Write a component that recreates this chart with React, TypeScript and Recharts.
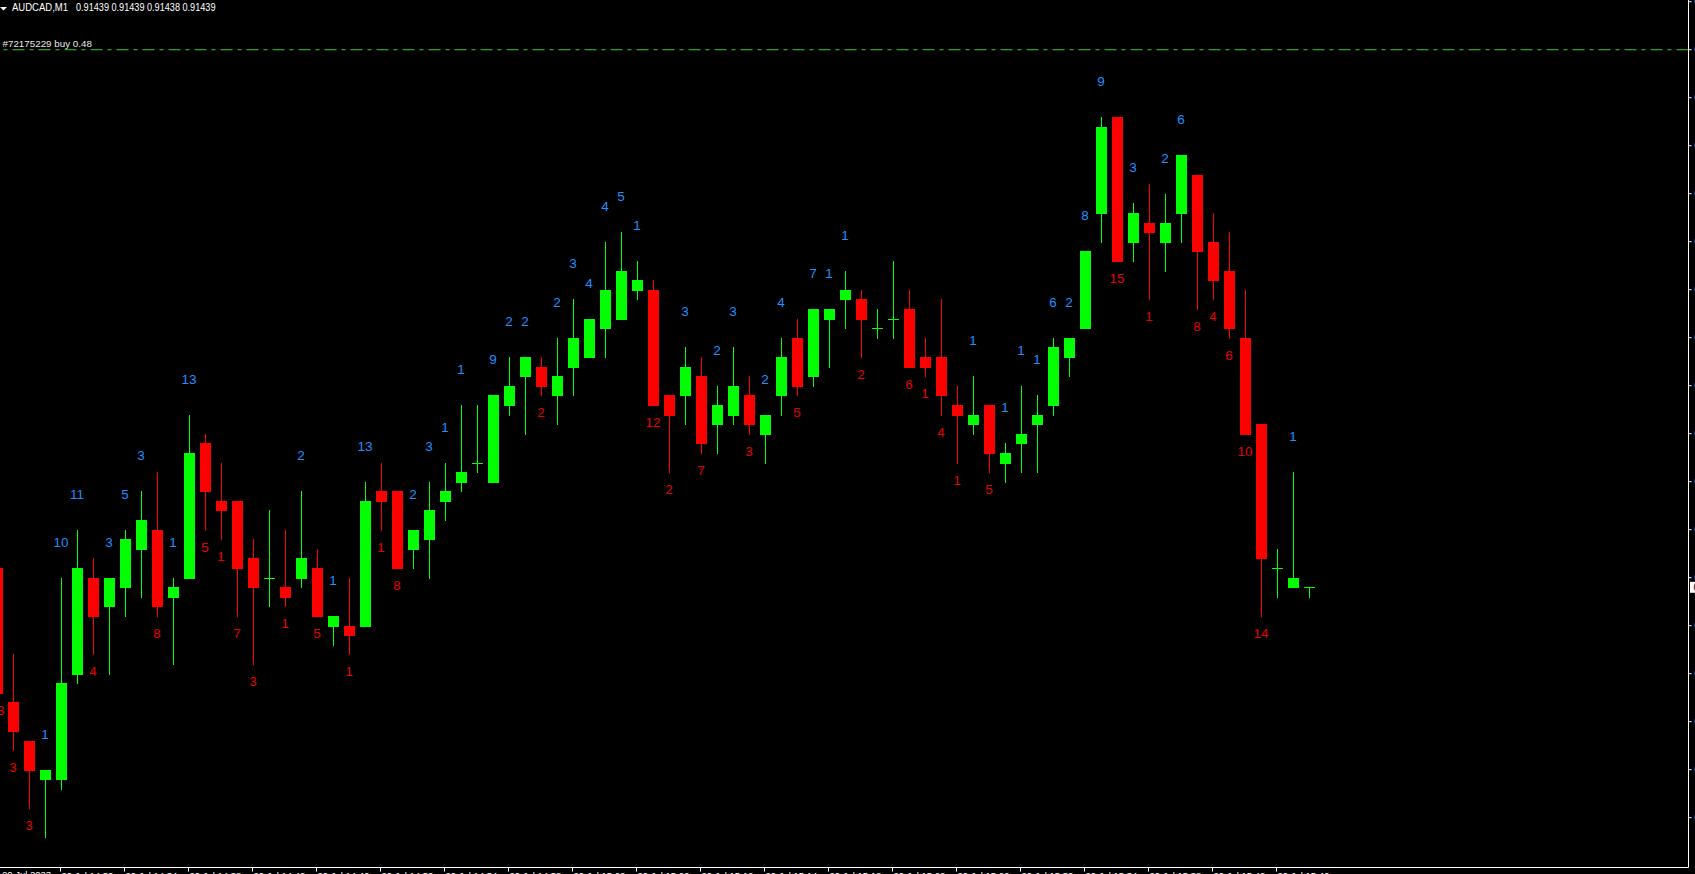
import { ComposedChart, Bar, XAxis, YAxis, ReferenceLine } from 'recharts';

// header / trade info
const symbol = 'AUDCAD,M1';
const lastQuote = ['0.91439', '0.91439', '0.91438', '0.91439'];
const orderText = '#72175229 buy 0.48';
const orderPrice = 0.91495;
const bidPrice = 0.91439;
const sessionDate = '20 Jul';
const firstDateLabel = '20 Jul 2023';

// M1 bars
const times = [
  '14:26', '14:27', '14:28', '14:29', '14:30', '14:31', '14:32', '14:33', '14:34', '14:35',
  '14:36', '14:37', '14:38', '14:39', '14:40', '14:41', '14:42', '14:43', '14:44', '14:45',
  '14:46', '14:47', '14:48', '14:49', '14:50', '14:51', '14:52', '14:53', '14:54', '14:55',
  '14:56', '14:57', '14:58', '14:59', '15:00', '15:01', '15:02', '15:03', '15:04', '15:05',
  '15:06', '15:07', '15:08', '15:09', '15:10', '15:11', '15:12', '15:13', '15:14', '15:15',
  '15:16', '15:17', '15:18', '15:19', '15:20', '15:21', '15:22', '15:23', '15:24', '15:25',
  '15:26', '15:27', '15:28', '15:29', '15:30', '15:31', '15:32', '15:33', '15:34', '15:35',
  '15:36', '15:37', '15:38', '15:39', '15:40', '15:41', '15:42', '15:43', '15:44', '15:45',
  '15:46', '15:47', '15:48',
];

const opens = [
  0.91441, 0.91427, 0.91423, 0.91419, 0.91419, 0.9143, 0.9144, 0.91437, 0.91439, 0.91443,
  0.91445, 0.91438, 0.9144, 0.91454, 0.91448, 0.91448, 0.91442, 0.9144, 0.91439, 0.9144,
  0.91441, 0.91435, 0.91435, 0.91435, 0.91449, 0.91449, 0.91443, 0.91444, 0.91448, 0.9145,
  0.91452, 0.9145, 0.91458, 0.91461, 0.91462, 0.91459, 0.91462, 0.91463, 0.91466, 0.91467,
  0.9147, 0.9147, 0.91459, 0.91459, 0.91461, 0.91456, 0.91457, 0.91459, 0.91455, 0.91459,
  0.91465, 0.91461, 0.91467, 0.91469, 0.91469, 0.91466, 0.91467, 0.91468, 0.91463, 0.91463,
  0.91458, 0.91456, 0.91458, 0.91452, 0.91454, 0.91456, 0.91458, 0.91463, 0.91466, 0.91478,
  0.91488, 0.91475, 0.91477, 0.91475, 0.91478, 0.91482, 0.91475, 0.91472, 0.91465, 0.91456,
  0.91441, 0.91439, 0.91439,
];

const highs = [
  0.91441, 0.91432, 0.91423, 0.9142, 0.9144, 0.91445, 0.91442, 0.9144, 0.91445, 0.91449,
  0.91451, 0.9144, 0.91457, 0.91455, 0.91452, 0.91448, 0.91444, 0.91447, 0.91445, 0.91449,
  0.91443, 0.91436, 0.9144, 0.9145, 0.91452, 0.91449, 0.91445, 0.9145, 0.91452, 0.91458,
  0.91458, 0.91459, 0.91463, 0.91463, 0.91463, 0.91465, 0.91469, 0.91467, 0.91475, 0.91476,
  0.91473, 0.91471, 0.91459, 0.91464, 0.91463, 0.9146, 0.91464, 0.91461, 0.91457, 0.91465,
  0.91467, 0.91468, 0.91468, 0.91472, 0.9147, 0.91468, 0.91473, 0.9147, 0.91465, 0.91469,
  0.9146, 0.91461, 0.91458, 0.91454, 0.9146, 0.91459, 0.91465, 0.91465, 0.91474, 0.91488,
  0.91488, 0.91479, 0.91481, 0.9148, 0.91484, 0.91482, 0.91478, 0.91476, 0.9147, 0.91456,
  0.91443, 0.91451, 0.91439,
];

const lows = [
  0.91428, 0.91422, 0.91416, 0.91413, 0.91418, 0.91429, 0.91432, 0.9143, 0.91436, 0.91438,
  0.91436, 0.91431, 0.9144, 0.91445, 0.91444, 0.91436, 0.91431, 0.91437, 0.91437, 0.91439,
  0.91436, 0.91433, 0.91432, 0.91435, 0.91445, 0.91441, 0.91441, 0.9144, 0.91446, 0.91449,
  0.91451, 0.9145, 0.91457, 0.91455, 0.91459, 0.91456, 0.91459, 0.91463, 0.91463, 0.91467,
  0.91469, 0.91458, 0.91451, 0.91456, 0.91453, 0.91453, 0.91456, 0.91455, 0.91452, 0.91457,
  0.91459, 0.9146, 0.91462, 0.91466, 0.91463, 0.91465, 0.91465, 0.91462, 0.91461, 0.91457,
  0.91452, 0.91455, 0.91451, 0.9145, 0.91451, 0.91451, 0.91457, 0.91461, 0.91466, 0.91475,
  0.91473, 0.91473, 0.91469, 0.91472, 0.91475, 0.91468, 0.91469, 0.91465, 0.91455, 0.91436,
  0.91438, 0.91439, 0.91438,
];

const closes = [
  0.91428, 0.91424, 0.9142, 0.9142, 0.91429, 0.91441, 0.91436, 0.9144, 0.91444, 0.91446,
  0.91437, 0.91439, 0.91453, 0.91449, 0.91447, 0.91441, 0.91439, 0.9144, 0.91438, 0.91442,
  0.91436, 0.91436, 0.91434, 0.91448, 0.91448, 0.91441, 0.91445, 0.91447, 0.91449, 0.91451,
  0.91452, 0.91459, 0.9146, 0.91463, 0.9146, 0.91461, 0.91465, 0.91467, 0.9147, 0.91472,
  0.91471, 0.91458, 0.91457, 0.91462, 0.91454, 0.91458, 0.9146, 0.91456, 0.91457, 0.91463,
  0.9146, 0.91468, 0.91468, 0.9147, 0.91467, 0.91466, 0.91467, 0.91462, 0.91462, 0.91459,
  0.91457, 0.91457, 0.91453, 0.91453, 0.91455, 0.91457, 0.91464, 0.91465, 0.91474, 0.91487,
  0.91473, 0.91478, 0.91476, 0.91477, 0.91484, 0.91474, 0.91471, 0.91466, 0.91455, 0.91442,
  0.91441, 0.9144, 0.91439,
];

// counter printed above (blue) / below (red) a bar
const upCounts = [
  null, null, null, 1, 10, 11, null, 3, 5, 3,
  null, 1, 13, null, null, null, null, null, null, 2,
  null, 1, null, 13, null, null, 2, 3, 1, 1,
  null, 9, 2, 2, null, 2, 3, 4, 4, 5,
  1, null, null, 3, null, 2, 3, null, 2, 4,
  null, 7, 1, 1, null, null, null, null, null, null,
  null, 1, null, 1, 1, 1, 6, 2, 8, 9,
  null, 3, null, 2, 6, null, null, null, null, null,
  null, 1, null,
];

const downCounts = [
  13, 3, 3, null, null, null, 4, null, null, null,
  8, null, null, 5, 1, 7, 3, null, 1, null,
  5, null, 1, null, 1, 8, null, null, null, null,
  null, null, null, null, 2, null, null, null, null, null,
  null, 12, 2, null, 7, null, null, 3, null, null,
  5, null, null, null, 2, null, null, 6, 1, 4,
  1, null, 5, null, null, null, null, null, null, null,
  15, null, 1, null, null, 8, 4, 6, 10, 14,
  null, null, null,
];

const timeTicks = [
  '14:30', '14:34', '14:38', '14:42', '14:46', '14:50', '14:54', '14:58', '15:02', '15:06',
  '15:10', '15:14', '15:18', '15:22', '15:26', '15:30', '15:34', '15:38', '15:42', '15:46',
];

const priceTicks = [
  0.91415, 0.9142, 0.91425, 0.9143, 0.91435, 0.9144, 0.91445, 0.9145, 0.91455,
  0.9146, 0.91465, 0.9147, 0.91475, 0.9148, 0.91485, 0.9149, 0.91495, 0.915,
];

const BULL = '#00ff00';
const BEAR = '#ff0000';
const FONT = '"Liberation Sans", Arial, sans-serif';

const rows = times.map((t, i) => ({
  t,
  range: [lows[i], highs[i]],
  open: opens[i],
  high: highs[i],
  low: lows[i],
  close: closes[i],
  up: upCounts[i],
  down: downCounts[i],
}));

// eslint-disable-next-line @typescript-eslint/no-explicit-any
const Candle = (props: any) => {
  const { x, y, width, height, payload } = props;
  if (x == null || y == null || !payload) return null;
  const { open, close, high, low, up, down } = payload;
  const top = Math.min(y, y + height);
  const h = Math.abs(height);
  const py = (v: number) => Math.round(top + ((high - v) / (high - low)) * h);
  const cx = x + width / 2;
  const color = close < open ? BEAR : BULL;
  const yH = py(high);
  const yL = py(low);
  const yO = py(open);
  const yC = py(close);
  return (
    <g>
      <rect x={Math.floor(cx)} y={yH} width={1} height={yL - yH + 1} fill={color} />
      <rect
        x={Math.round(cx - 5.5)}
        y={Math.min(yO, yC)}
        width={11}
        height={Math.abs(yO - yC) + 1}
        fill={color}
      />
      {up != null && (
        <text x={cx} y={yH - 31.5} textAnchor="middle" fill="#1e90ff" fontSize={13.5} fontFamily={FONT}>
          {up}
        </text>
      )}
      {down != null && (
        <text x={cx} y={yL + 22} textAnchor="middle" fill="#e60000" fontSize={13.5} fontFamily={FONT}>
          {down}
        </text>
      )}
    </g>
  );
};

// eslint-disable-next-line @typescript-eslint/no-explicit-any
const TimeTick = ({ x, y, payload }: any) => (
  <text x={x + 1} y={y + 7} fill="#fff" fontSize={9.5} fontFamily={FONT}>
    {`${sessionDate} ${payload.value}`}
  </text>
);

// eslint-disable-next-line @typescript-eslint/no-explicit-any
const OrderLabel = ({ viewBox }: any) => (
  <text x={viewBox.x + 14} y={viewBox.y - 3} fill="#e8e8e8" fontSize={9.8} fontFamily={FONT}>
    {orderText}
  </text>
);

// eslint-disable-next-line @typescript-eslint/no-explicit-any
const BidTag = ({ viewBox }: any) => {
  const left = viewBox.x + viewBox.width + 1.5;
  return (
    <g>
      <rect x={left} y={viewBox.y - 5.5} width={52} height={11} fill="#fff" />
      <text x={left + 3.5} y={viewBox.y + 3.5} fill="#000" fontSize={10} fontFamily={FONT}>
        {bidPrice.toFixed(5)}
      </text>
    </g>
  );
};

export default function App() {
  return (
    <div
      style={{
        position: 'absolute',
        left: 0,
        top: 0,
        width: 1695,
        height: 874,
        overflow: 'hidden',
        background: '#000',
      }}
    >
      <div style={{ position: 'absolute', left: -16, top: 0 }}>
        <ComposedChart
          width={1765}
          height={898}
          data={rows}
          margin={{ top: 0, right: 0.5, bottom: 0.5, left: 4.5 }}
        >
          <XAxis
            dataKey="t"
            ticks={timeTicks}
            interval={0}
            height={30}
            padding={{ left: 0, right: 372 }}
            stroke="#fff"
            tickSize={4}
            tickMargin={0}
            tick={<TimeTick />}
          />
          <YAxis
            orientation="right"
            type="number"
            domain={[0.9140981, 0.9150018]}
            allowDataOverflow
            ticks={priceTicks}
            interval={0}
            width={60}
            stroke="#fff"
            tickSize={3}
            tickMargin={3}
            tick={{ fill: '#fff', fontSize: 10, fontFamily: FONT }}
            tickFormatter={(v: number) => v.toFixed(5)}
          />
          <ReferenceLine
            y={orderPrice}
            stroke="#32cd32"
            strokeDasharray="12 5 4 5"
            label={<OrderLabel />}
          />
          <Bar dataKey="range" barSize={11} shape={<Candle />} isAnimationActive={false} />
          <ReferenceLine y={bidPrice} stroke="transparent" label={<BidTag />} />
        </ComposedChart>
      </div>
      <svg
        width={1695}
        height={874}
        style={{ position: 'absolute', left: 0, top: 0, pointerEvents: 'none' }}
      >
        <polygon points="0,7 7,7 3.5,10.5" fill="#fff" />
        <text x={12} y={11} fill="#fff" fontSize={10.5} fontFamily={FONT} textLength={56} lengthAdjust="spacingAndGlyphs">
          {symbol}
        </text>
        {lastQuote.map((q, i) => (
          <text
            key={i}
            x={76 + i * 35.5}
            y={11}
            fill="#fff"
            fontSize={10.5}
            fontFamily={FONT}
            textLength={33}
            lengthAdjust="spacingAndGlyphs"
          >
            {q}
          </text>
        ))}
        <text x={2} y={878} fill="#fff" fontSize={9.5} fontFamily={FONT}>
          {firstDateLabel}
        </text>
      </svg>
    </div>
  );
}
